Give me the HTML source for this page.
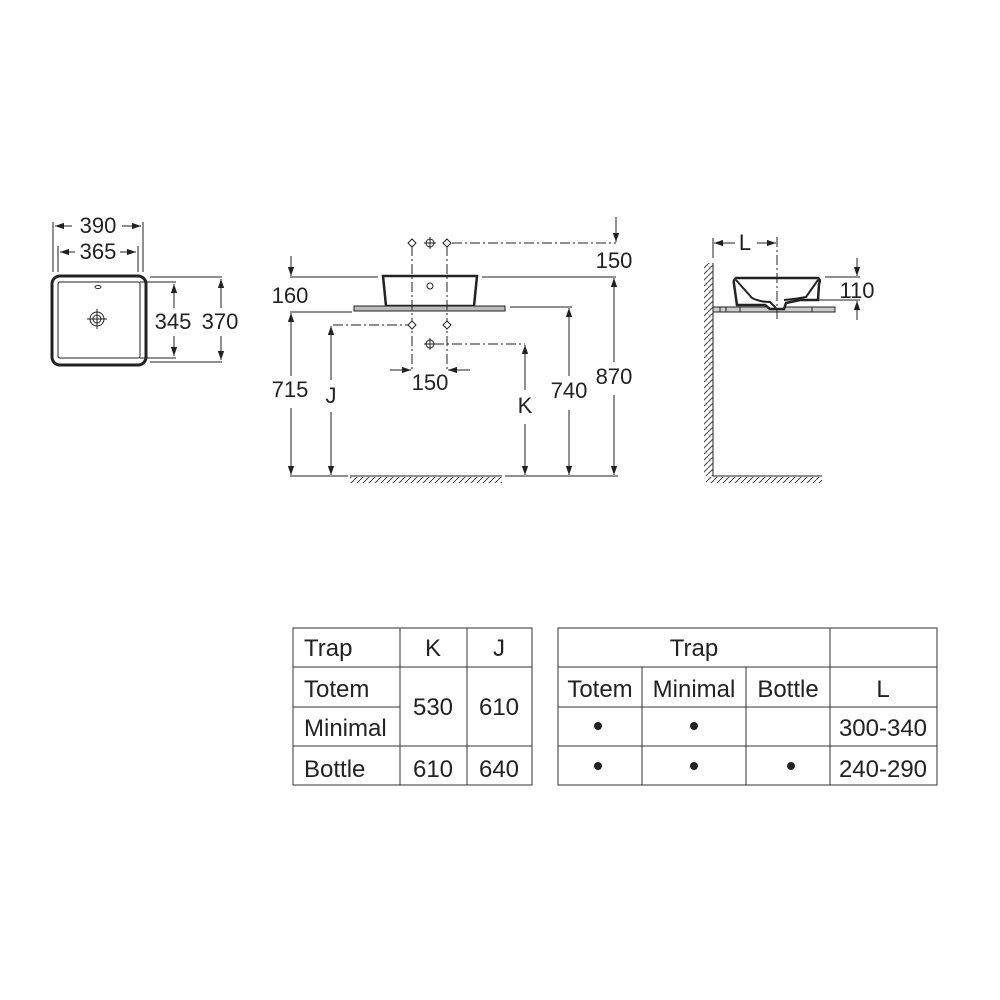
<!DOCTYPE html>
<html><head><meta charset="utf-8"><style>
html,body{margin:0;padding:0;background:#fff;}
svg{display:block}
text{font-family:"Liberation Sans",sans-serif;fill:#222;}
</style></head><body>
<svg width="1000" height="1000" viewBox="0 0 1000 1000" xmlns="http://www.w3.org/2000/svg">
<defs>
<marker id="a" viewBox="0 0 10 10" refX="10" refY="5" markerWidth="9" markerHeight="9" orient="auto-start-reverse" markerUnits="userSpaceOnUse"><path d="M0,1.5 L10,5 L0,8.5 Z" fill="#222"/></marker>
<pattern id="h" width="6" height="6" patternUnits="userSpaceOnUse"><path d="M0,6 L6,0" stroke="#444" stroke-width="1"/></pattern>
</defs>
<g stroke="#222" fill="none" stroke-width="1">
<!-- TOP VIEW -->
<rect x="52" y="276" width="94" height="89" rx="8" stroke-width="3"/>
<rect x="58" y="282" width="82" height="76" rx="2"/>
<ellipse cx="98" cy="287" rx="3" ry="1.5"/>
<circle cx="97" cy="319" r="7"/><circle cx="97" cy="319" r="4"/>
<path d="M87,319 H107 M97,309 V329"/>
<path d="M53,222 V272 M143,222 V272 M58,246 V272 M138,246 V272"/>
<path d="M55,226 H72" marker-start="url(#a)"/><path d="M122,226 H141" marker-end="url(#a)"/>
<path d="M60,252 H75" marker-start="url(#a)"/><path d="M120,252 H136" marker-end="url(#a)"/>
<path d="M150,277 H222 M150,362 H222 M140,282 H176 M140,358 H176"/>
<path d="M174,308 V284" marker-end="url(#a)"/><path d="M174,336 V356" marker-end="url(#a)"/>
<path d="M221,308 V279" marker-end="url(#a)"/><path d="M221,336 V360" marker-end="url(#a)"/>

<!-- FRONT VIEW -->
<path d="M383,276 H477 L474,306 H386 Z" stroke-width="2.5"/>
<circle cx="430" cy="286" r="3"/>
<rect x="354" y="306" width="151" height="5" fill="#bbb"/>
<path d="M290,277 H378 M482,277 H616 M290,312 H352 M510,307 H572"/>
<g stroke-dasharray="10,3,2,3">
<path d="M452,243 H616 M412,246 V372 M447,246 V372 M333,325 H409 M434,344 H525"/>
</g>
<g fill="#fff">
<path d="M412,239 l4,4 l-4,4 l-4,-4z M447,239 l4,4 l-4,4 l-4,-4z M412,321 l4,4 l-4,4 l-4,-4z M447,321 l4,4 l-4,4 l-4,-4z"/>
<circle cx="430" cy="243" r="4"/><circle cx="430" cy="344" r="4"/>
</g>
<path d="M424,243 H436 M430,237 V249 M424,344 H436 M430,338 V350"/>
<path d="M390,370 H411" marker-end="url(#a)"/><path d="M470,370 H448" marker-end="url(#a)"/>
<path d="M616,217 V242" marker-end="url(#a)"/>
<path d="M291,256 V276" marker-end="url(#a)"/>
<path d="M291,376 V313" marker-end="url(#a)"/><path d="M291,408 V475" marker-end="url(#a)"/>
<path d="M331,380 V326" marker-end="url(#a)"/><path d="M331,412 V475" marker-end="url(#a)"/>
<path d="M525,390 V345" marker-end="url(#a)"/><path d="M525,424 V475" marker-end="url(#a)"/>
<path d="M569,376 V308" marker-end="url(#a)"/><path d="M569,410 V475" marker-end="url(#a)"/>
<path d="M614,362 V278" marker-end="url(#a)"/><path d="M614,395 V475" marker-end="url(#a)"/>
<path d="M290,476 H348 M505,476 H618 M350,476 H502"/>
<rect x="350" y="477" width="152" height="6" fill="url(#h)" stroke="none"/>

<!-- SIDE VIEW -->
<path d="M713,263 V476 H822"/>
<rect x="704" y="263" width="9" height="213" fill="url(#h)" stroke="none"/>
<rect x="706" y="477" width="116" height="6" fill="url(#h)" stroke="none"/>
<path d="M713,238 V258"/>
<rect x="713" y="307" width="122" height="5" fill="#ccc"/>
<path d="M720,307 V312 M726,307 V312 M740,307 V312 M812,307 V312"/>
<path d="M736,278 Q733,280 734,284 L737,305 H765 L770,309 H784 L786,303 L800,300 H818 L819,284 Q821,280 818,278 Z" stroke-width="2.5" fill="#fff"/>
<path d="M736,280 L752,298 Q760,302 770,302 L776,308 M818,280 L806,297 Q796,299 784,300" stroke-width="2"/>
<path d="M777,237 V322" stroke-dasharray="10,3,2,3"/>
<path d="M735,243 H714" marker-end="url(#a)"/><path d="M757,243 H776" marker-end="url(#a)"/>
<path d="M825,277 H860 M805,300 H860"/>
<path d="M857,258 V276" marker-end="url(#a)"/><path d="M857,320 V301" marker-end="url(#a)"/>
</g>
<g font-size="22" text-anchor="middle">
<text x="98" y="233">390</text><text x="98" y="259">365</text>
<text x="173" y="329">345</text><text x="220" y="329">370</text>
<text x="290" y="303">160</text><text x="614" y="268">150</text>
<text x="290" y="397">715</text><text x="331" y="403">J</text>
<text x="430" y="390">150</text><text x="525" y="413">K</text>
<text x="569" y="398">740</text><text x="614" y="384">870</text>
<text x="745" y="250">L</text><text x="857" y="298">110</text>
</g>

<!-- TABLES -->
<g stroke="#333" stroke-width="1" fill="none">
<rect x="293" y="628" width="239" height="157"/>
<path d="M400,628 V785 M467,628 V785 M293,667 H532 M293,707 H400 M293,746 H532"/>
<rect x="558" y="628" width="379" height="157"/>
<path d="M830,628 V785 M642,667 V785 M746,667 V785 M558,667 H937 M558,707 H937 M558,746 H937"/>
</g>
<g font-size="24">
<text x="304" y="656">Trap</text><text x="304" y="697">Totem</text>
<text x="304" y="736">Minimal</text><text x="304" y="777">Bottle</text>
</g>
<g font-size="24" text-anchor="middle">
<text x="433" y="656">K</text><text x="499" y="656">J</text>
<text x="433" y="715">530</text><text x="499" y="715">610</text>
<text x="433" y="777">610</text><text x="499" y="777">640</text>
<text x="694" y="656">Trap</text>
<text x="600" y="697">Totem</text><text x="694" y="697">Minimal</text><text x="788" y="697">Bottle</text><text x="883" y="697">L</text>
<text x="883" y="736">300-340</text><text x="883" y="777">240-290</text>
</g>
<g fill="#222">
<circle cx="598" cy="726" r="4"/><circle cx="694" cy="726" r="4"/>
<circle cx="598" cy="766" r="4"/><circle cx="694" cy="766" r="4"/><circle cx="791" cy="766" r="4"/>
</g>
</svg>
</body></html>
